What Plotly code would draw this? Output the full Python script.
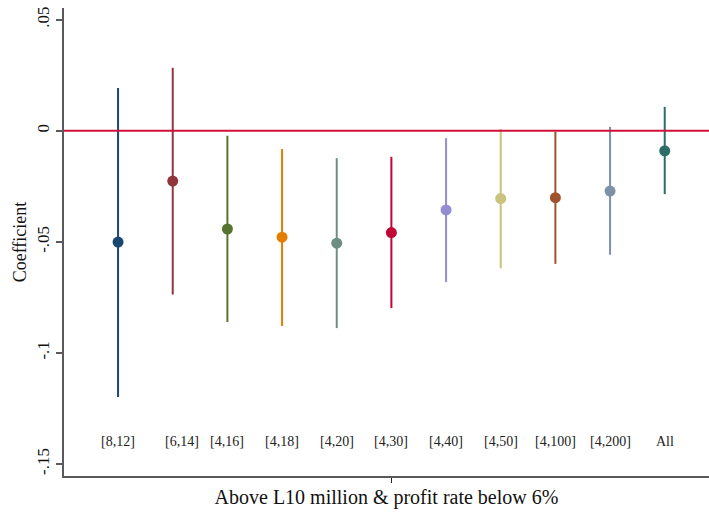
import plotly.graph_objects as go

# Sample definitions (size bands) and estimated coefficients with 95% CIs
groups = ["[8,12]", "[6,14]", "[4,16]", "[4,18]", "[4,20]", "[4,30]",
          "[4,40]", "[4,50]", "[4,100]", "[4,200]", "All"]
coef = [-0.0501, -0.0226, -0.0442, -0.0479, -0.0506, -0.0458,
        -0.0356, -0.0305, -0.0301, -0.0271, -0.0090]
ci_low = [-0.1198, -0.0737, -0.0861, -0.0879, -0.0888, -0.0798,
          -0.0681, -0.0619, -0.0599, -0.0558, -0.0285]
ci_high = [0.0193, 0.0284, -0.0022, -0.0082, -0.0123, -0.0117,
           -0.0033, 0.0008, -0.0004, 0.0018, 0.0108]

# Stata s2color palette
colors = ["#1a476f", "#90353b", "#55752f", "#e37e00", "#6e8e84", "#c10534",
          "#938dd2", "#cac27e", "#a0522d", "#7b92a8", "#2d6d66"]

y_ticks = [0.05, 0, -0.05, -0.1, -0.15]
y_tick_text = [".05", "0", "-.05", "-.1", "-.15"]

FONT = "Liberation Serif"
AXIS_GREY = "#5a5a5a"

fig = go.Figure()
for i, (g, c, lo, hi, col) in enumerate(zip(groups, coef, ci_low, ci_high, colors)):
    pos = i + 1
    fig.add_trace(go.Scatter(
        x=[pos], y=[c], mode="markers", name=g,
        marker=dict(color=col, size=11),
        error_y=dict(type="data", symmetric=False,
                     array=[hi - c], arrayminus=[c - lo],
                     color=col, thickness=2, width=0),
        showlegend=False,
    ))

# group labels written inside the plot region
label_shift = {"[6,14]": 9}
for i, g in enumerate(groups):
    fig.add_annotation(x=i + 1, y=-0.14, text=g, showarrow=False,
                       xshift=label_shift.get(g, 0),
                       font=dict(family=FONT, size=14, color="#222222"))

# reference line at zero
fig.add_shape(type="line", xref="paper", x0=0, x1=1, yref="y", y0=0, y1=0,
              line=dict(color="#d0103a", width=2), layer="above")

fig.update_layout(
    width=709, height=512,
    margin=dict(l=64, r=0, t=8, b=36),
    paper_bgcolor="white", plot_bgcolor="white",
    font=dict(family=FONT, color="#111111"),
    xaxis=dict(range=[0.011, 11.81], tickvals=[6], ticktext=[""],
               ticks="outside", ticklen=5, tickcolor="#222222", tickwidth=1,
               showgrid=False, zeroline=False,
               showline=True, linecolor=AXIS_GREY, linewidth=2,
               title=dict(text="Above L10 million & profit rate below 6%",
                          font=dict(family=FONT, size=20), standoff=6)),
    yaxis=dict(range=[-0.1554, 0.0553], tickvals=y_ticks, ticktext=y_tick_text,
               tickangle=-90, ticks="outside", ticklen=6, tickcolor=AXIS_GREY,
               tickwidth=1.5, tickfont=dict(family=FONT, size=17),
               showgrid=False, zeroline=False,
               showline=True, linecolor=AXIS_GREY, linewidth=2,
               title=dict(text="Coefficient", font=dict(family=FONT, size=18),
                          standoff=3)),
)

fig.write_html("out.html")
